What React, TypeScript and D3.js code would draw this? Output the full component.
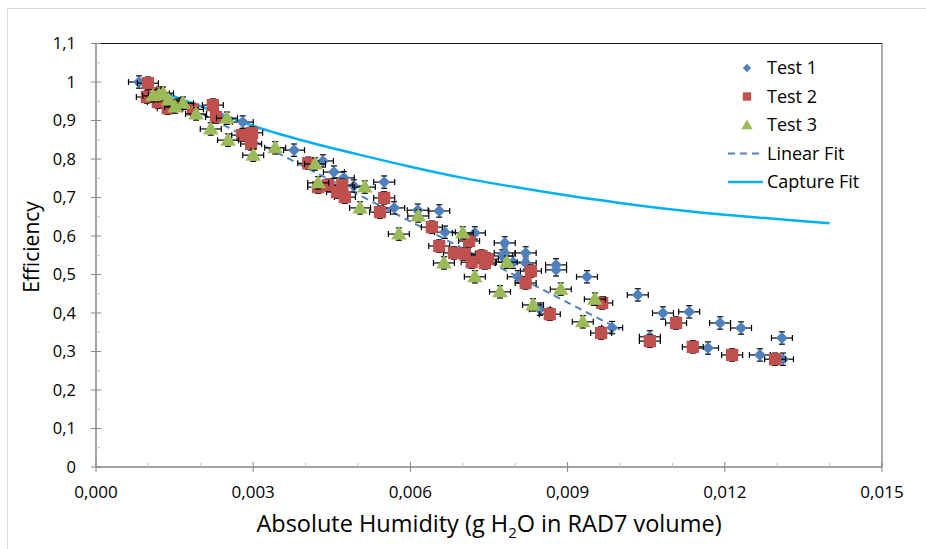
import React from 'react';
import * as d3 from 'd3';

// Test series: [absolute humidity, efficiency]
const test1: [number, number][] = [
  [0.00082, 1.0], [0.0028, 0.896], [0.00378, 0.823], [0.00433, 0.795], [0.00454, 0.766],
  [0.00473, 0.751], [0.00492, 0.73], [0.0055, 0.74], [0.00569, 0.673], [0.00614, 0.667],
  [0.00655, 0.665], [0.00666, 0.61], [0.00723, 0.608], [0.0078, 0.582], [0.0078, 0.556],
  [0.00775, 0.548], [0.00796, 0.532], [0.0082, 0.556], [0.0082, 0.53], [0.00805, 0.494],
  [0.00878, 0.525], [0.00878, 0.512], [0.00937, 0.494], [0.00847, 0.41], [0.00985, 0.362],
  [0.01034, 0.447], [0.01082, 0.4], [0.01132, 0.403], [0.01057, 0.338], [0.01191, 0.374],
  [0.01231, 0.361], [0.01309, 0.335], [0.01168, 0.309], [0.01267, 0.291], [0.01311, 0.28],
];

const test2: [number, number][] = [
  [0.00099, 0.997], [0.00097, 0.961], [0.0012, 0.971], [0.00118, 0.948], [0.00137, 0.932],
  [0.00156, 0.94], [0.00185, 0.929], [0.00223, 0.94], [0.00229, 0.909], [0.00279, 0.862],
  [0.00298, 0.868], [0.00296, 0.839], [0.00405, 0.789], [0.00424, 0.727], [0.00443, 0.732],
  [0.0046, 0.714], [0.0047, 0.732], [0.00475, 0.701], [0.0055, 0.699], [0.00542, 0.662],
  [0.00641, 0.623], [0.00655, 0.574], [0.00683, 0.556], [0.00704, 0.553], [0.00712, 0.587],
  [0.00717, 0.532], [0.00736, 0.548], [0.00742, 0.53], [0.00748, 0.54], [0.0083, 0.509],
  [0.0082, 0.478], [0.00866, 0.397], [0.00966, 0.426], [0.00964, 0.348], [0.01057, 0.327],
  [0.01107, 0.374], [0.01139, 0.312], [0.01214, 0.291], [0.01296, 0.28],
];

const test3: [number, number][] = [
  [0.00109, 0.964], [0.0012, 0.966], [0.00128, 0.971], [0.00139, 0.953], [0.00151, 0.935],
  [0.00166, 0.945], [0.00191, 0.917], [0.00219, 0.878], [0.0025, 0.906], [0.00252, 0.849],
  [0.003, 0.81], [0.00342, 0.829], [0.00418, 0.787], [0.00424, 0.738], [0.00513, 0.727],
  [0.00504, 0.673], [0.00578, 0.605], [0.00615, 0.652], [0.00664, 0.53], [0.007, 0.608],
  [0.00723, 0.494], [0.00784, 0.532], [0.00771, 0.455], [0.00834, 0.421], [0.00887, 0.462],
  [0.00929, 0.377], [0.00952, 0.436],
];

const linearFit: [number, number][] = [[0.0008, 1.003], [0.01, 0.357]];

const captureFit: [number, number][] = [
  [0.0008, 1.0], [0.0015, 0.962], [0.002, 0.937], [0.0025, 0.911], [0.003, 0.886],
  [0.004, 0.846], [0.005, 0.812], [0.006, 0.78], [0.007, 0.751], [0.008, 0.727],
  [0.009, 0.705], [0.01, 0.686], [0.011, 0.669], [0.012, 0.655], [0.013, 0.644], [0.014, 0.633],
];

const xErr = 0.0002;
const yErr = 0.016;

const xTicks = [0, 0.003, 0.006, 0.009, 0.012, 0.015];
const yTicks = [0, 0.1, 0.2, 0.3, 0.4, 0.5, 0.6, 0.7, 0.8, 0.9, 1, 1.1];

const legendItems = ['Test 1', 'Test 2', 'Test 3', 'Linear Fit', 'Capture Fit'];

const BLUE = '#4f81bd';
const RED = '#c0504d';
const GREEN = '#9bbb59';
const CYAN = '#00b0f0';
const AXIS = '#868686';
const FONT = "'Open Sans', sans-serif";

const fmtX = (v: number) => v.toFixed(3).replace('.', ',');
const fmtY = (v: number) => (Math.round(v * 10) / 10).toString().replace('.', ',');

export default function App() {
  const W = 926, H = 549;
  const left = 96, right = 882, top = 43.5, bottom = 467;

  const x = d3.scaleLinear().domain([0, 0.015]).range([left, right]);
  const y = d3.scaleLinear().domain([0, 1.1]).range([bottom, top]);
  const line = d3.line<[number, number]>().x(d => x(d[0])).y(d => y(d[1]));
  const smooth = d3.line<[number, number]>().x(d => x(d[0])).y(d => y(d[1])).curve(d3.curveMonotoneX);

  const minorX = d3.range(0, 0.0151, 0.001).filter((_, i) => i % 3 !== 0);
  const minorY = d3.range(0.05, 1.1, 0.1);

  const errBars = (data: [number, number][], key: string) =>
    data.map((d, i) => {
      const cx = x(d[0]), cy = y(d[1]);
      const x0 = x(d[0] - xErr), x1 = x(d[0] + xErr);
      const y0 = y(d[1] - yErr), y1 = y(d[1] + yErr);
      return (
        <g key={key + i} stroke="#000" strokeWidth={1.2}>
          <line x1={x0} x2={x1} y1={cy} y2={cy} />
          <line x1={x0} x2={x0} y1={cy - 3} y2={cy + 3} />
          <line x1={x1} x2={x1} y1={cy - 3} y2={cy + 3} />
          <line x1={cx} x2={cx} y1={y0} y2={y1} />
          <line x1={cx - 3} x2={cx + 3} y1={y0} y2={y0} />
          <line x1={cx - 3} x2={cx + 3} y1={y1} y2={y1} />
        </g>
      );
    });

  const diamond = d3.symbol(d3.symbolDiamond2, 90)();
  const square = d3.symbol(d3.symbolSquare, 150)();
  const triangle = d3.symbol(d3.symbolTriangle, 105)();

  const legX = 747, legTextX = 767, legY0 = 68, legStep = 28.5;

  return (
    <div style={{ position: 'fixed', left: 0, top: 0 }}>
      <svg width={W} height={H} style={{ display: 'block', background: '#fff' }} fontFamily={FONT}>
        <rect x={7.5} y={8.5} width={930} height={560} fill="#fff" stroke="#d9d9d9" strokeWidth={1} />

        {/* frame */}
        <line x1={left} x2={right} y1={top} y2={top} stroke="#1a1a1a" strokeWidth={1} />
        <line x1={right} x2={right} y1={top} y2={bottom} stroke="#595959" strokeWidth={1} />

        {/* y axis */}
        <line x1={left} x2={left} y1={top} y2={bottom} stroke={AXIS} strokeWidth={1.5} />
        {yTicks.map(t => (
          <g key={'yt' + t}>
            <line x1={left - 5} x2={left + 5} y1={y(t)} y2={y(t)} stroke={AXIS} strokeWidth={1} />
            <text x={76} y={y(t)} dy="0.35em" textAnchor="end" fontSize={16.5} fill="#000">{fmtY(t)}</text>
          </g>
        ))}
        {minorY.map(t => (
          <line key={'ym' + t} x1={left} x2={left + 4} y1={y(t)} y2={y(t)} stroke="#bfbfbf" strokeWidth={1} />
        ))}

        {/* x axis */}
        <line x1={left} x2={right} y1={bottom} y2={bottom} stroke={AXIS} strokeWidth={1.5} />
        {xTicks.map(t => (
          <g key={'xt' + t}>
            <line x1={x(t)} x2={x(t)} y1={bottom - 5} y2={bottom + 5} stroke={AXIS} strokeWidth={1} />
            <text x={x(t)} y={492} dy="0.35em" textAnchor="middle" fontSize={17} fill="#000">{fmtX(t)}</text>
          </g>
        ))}
        {minorX.map(t => (
          <line key={'xm' + t} x1={x(t)} x2={x(t)} y1={bottom - 4} y2={bottom} stroke="#bfbfbf" strokeWidth={1} />
        ))}

        {/* fits */}
        <path d={smooth(captureFit) || ''} fill="none" stroke={CYAN} strokeWidth={2.5} />
        <path d={line(linearFit) || ''} fill="none" stroke={BLUE} strokeWidth={2} strokeDasharray="7,5" />

        {/* series */}
        {errBars(test1, 'e1')}
        {test1.map((d, i) => (
          <path key={'p1' + i} d={diamond || ''} transform={`translate(${x(d[0])},${y(d[1])})`} fill={BLUE} />
        ))}
        {errBars(test2, 'e2')}
        {test2.map((d, i) => (
          <path key={'p2' + i} d={square || ''} transform={`translate(${x(d[0])},${y(d[1])})`} fill={RED} />
        ))}
        {errBars(test3, 'e3')}
        {test3.map((d, i) => (
          <path key={'p3' + i} d={triangle || ''} transform={`translate(${x(d[0])},${y(d[1]) + 1})`} fill={GREEN} />
        ))}

        {/* legend */}
        <path d={d3.symbol(d3.symbolDiamond2, 45)() || ''} transform={`translate(${legX},${legY0})`} fill={BLUE} />
        <path d={d3.symbol(d3.symbolSquare, 70)() || ''} transform={`translate(${legX},${legY0 + legStep})`} fill={RED} />
        <path d={d3.symbol(d3.symbolTriangle, 55)() || ''} transform={`translate(${legX},${legY0 + 2 * legStep + 1})`} fill={GREEN} />
        <line x1={728} x2={763} y1={legY0 + 3 * legStep} y2={legY0 + 3 * legStep} stroke={BLUE} strokeWidth={2} strokeDasharray="7,5" />
        <line x1={728} x2={763} y1={legY0 + 4 * legStep} y2={legY0 + 4 * legStep} stroke={CYAN} strokeWidth={2.5} />
        {legendItems.map((s, i) => (
          <text key={s} x={legTextX} y={legY0 + i * legStep} dy="0.35em" fontSize={18} fill="#000">{s}</text>
        ))}

        {/* axis titles */}
        <text transform={`translate(32,247) rotate(-90)`} textAnchor="middle" dy="0.35em" fontSize={21} fill="#000">Efficiency</text>
        <text x={489} y={524} textAnchor="middle" dy="0.35em" fontSize={23.5} fill="#000">
          Absolute Humidity (g H<tspan fontSize={15} dy="6">2</tspan><tspan dy="-6">O in RAD7 volume)</tspan>
        </text>
      </svg>
    </div>
  );
}
